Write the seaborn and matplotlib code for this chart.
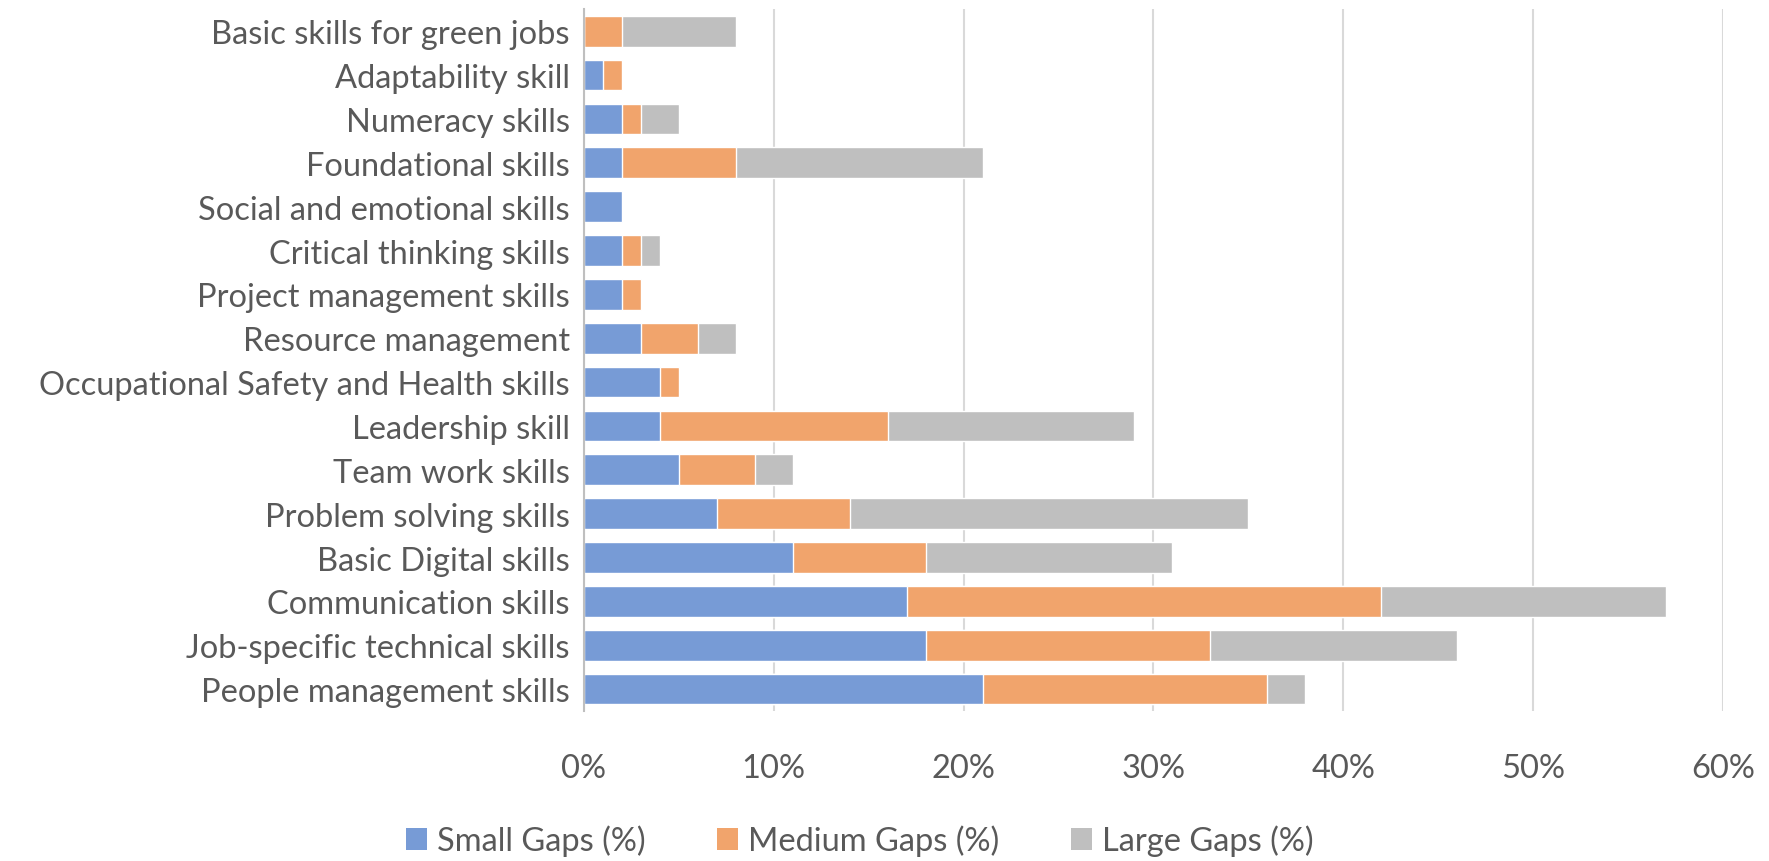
import pandas as pd
import matplotlib.pyplot as plt
import seaborn as sns
from matplotlib.patches import Patch
from matplotlib.ticker import PercentFormatter

# === Data (top to bottom as shown) ===
skills = [
    "Basic skills for green jobs",
    "Adaptability skill",
    "Numeracy skills",
    "Foundational skills",
    "Social and emotional skills",
    "Critical thinking skills",
    "Project management skills",
    "Resource management",
    "Occupational Safety and Health skills",
    "Leadership skill",
    "Team work skills",
    "Problem solving skills",
    "Basic Digital skills",
    "Communication skills",
    "Job-specific technical skills",
    "People management skills",
]
small_gaps  = [0, 1, 2, 2, 2, 2, 2, 3, 4, 4, 5, 7, 11, 17, 18, 21]
medium_gaps = [2, 1, 1, 6, 0, 1, 1, 3, 1, 12, 4, 7, 7, 25, 15, 15]
large_gaps  = [6, 0, 2, 13, 0, 1, 0, 2, 0, 13, 2, 21, 13, 15, 13, 2]

series_names = ["Small Gaps (%)", "Medium Gaps (%)", "Large Gaps (%)"]
colors = ["#779BD6", "#F1A46C", "#BFBFBF"]
text_color = "#595959"

df = pd.DataFrame({"Skill": skills, "Small": small_gaps,
                   "Medium": medium_gaps, "Large": large_gaps})
df["SM"] = df["Small"] + df["Medium"]
df["Total"] = df["SM"] + df["Large"]

sns.set_style("white")
plt.rcParams["font.family"] = ["Lato", "DejaVu Sans"]

fig, ax = plt.subplots(figsize=(17.69, 8.62), dpi=100)
fig.subplots_adjust(left=0.330, right=0.974, top=0.988, bottom=0.174)

# stacked bars: draw cumulative totals back to front
for col, c in zip(["Total", "SM", "Small"], colors[::-1]):
    sns.barplot(data=df, y="Skill", x=col, order=skills, color=c,
                width=0.7, saturation=1, ax=ax, zorder=3)

ax.set_xlim(0, 60)
ax.set_xticks(range(0, 61, 10))
ax.xaxis.set_major_formatter(PercentFormatter(decimals=0))
ax.grid(axis="x", color="#D9D9D9", linewidth=1.5, zorder=0)
ax.set_axisbelow(True)
ax.set_xlabel("")
ax.set_ylabel("")
for s in ["top", "right", "bottom"]:
    ax.spines[s].set_visible(False)
ax.spines["left"].set_color("#BFBFBF")
ax.spines["left"].set_linewidth(1.5)
ax.spines["left"].set_zorder(4)
ax.tick_params(axis="both", length=0, labelsize=23.5, labelcolor=text_color)
ax.tick_params(axis="x", pad=30)
ax.tick_params(axis="y", pad=10)
ax.set_ylim(len(skills) - 0.5, -0.5)

handles = [Patch(facecolor=c, edgecolor="none") for c in colors]
fig.legend(handles, series_names, loc="center", bbox_to_anchor=(0.486, 0.024),
           ncol=3, frameon=False, fontsize=23.5, labelcolor=text_color,
           handlelength=0.65, handleheight=0.65, handletextpad=0.3,
           columnspacing=2.2)

fig.savefig("out.png", dpi=100)
